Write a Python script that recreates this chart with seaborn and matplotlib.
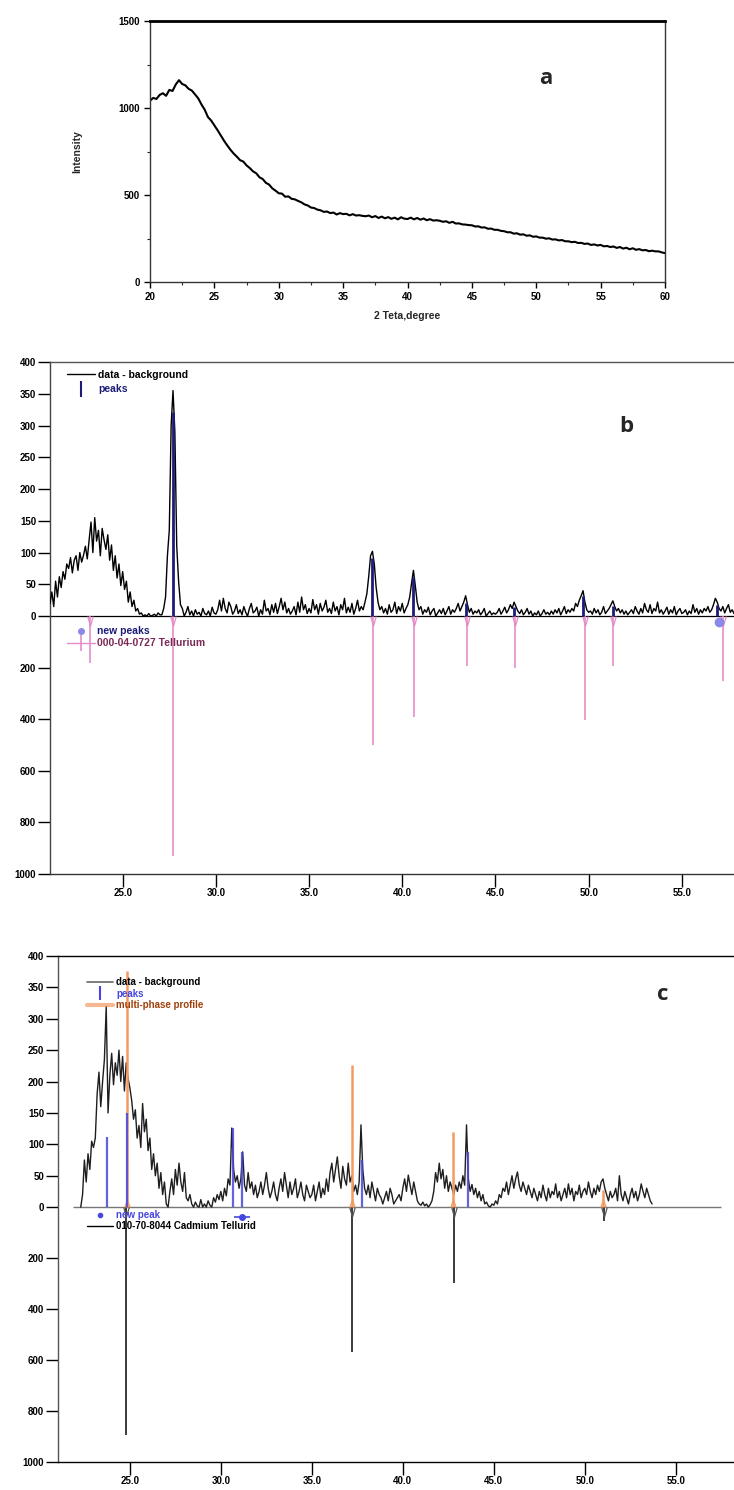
import numpy as np
import pandas as pd
import matplotlib
matplotlib.use("Agg")
import matplotlib.pyplot as plt
import seaborn as sns
from matplotlib.lines import Line2D
from matplotlib.ticker import FixedLocator, FuncFormatter, MultipleLocator

# ---------------- data : panel a (amorphous pattern) ----------------
tt_a_start, tt_a_step = 20.0, 0.25
int_a = [1042, 1058, 1052, 1075, 1085, 1070, 1104, 1098, 1135, 1160, 1138, 1130, 1110, 1100, 1078, 1055,
         1020, 990, 948, 928, 900, 872, 842, 812, 785, 760, 738, 720, 700, 692, 670, 655,
         636, 625, 602, 592, 570, 560, 538, 525, 510, 508, 490, 492, 478, 475, 466, 458,
         446, 440, 428, 425, 416, 412, 403, 405, 396, 399, 388, 396, 390, 392, 383, 390,
         382, 384, 380, 378, 382, 372, 379, 368, 376, 366, 373, 363, 370, 360, 372, 364,
         362, 370, 360, 368, 358, 365, 355, 361, 353, 355, 352, 346, 349, 340, 346, 336,
         337, 331, 330, 327, 326, 319, 320, 313, 314, 306, 307, 300, 300, 294, 292, 286,
         286, 278, 280, 272, 274, 266, 268, 260, 262, 255, 255, 249, 251, 244, 245, 239,
         241, 234, 234, 229, 231, 224, 225, 219, 221, 213, 216, 210, 213, 205, 207, 201,
         204, 196, 201, 192, 197, 188, 194, 185, 189, 182, 184, 177, 180, 176, 176, 170, 166]

# ---------------- data : panel b (data - background, Te) ----------------
tt_b_start, tt_b_step = 21.1, 0.1
int_b = [20, 38, 15, 55, 30, 62, 45, 70, 58, 82,
         75, 92, 68, 88, 95, 72, 100, 85, 96, 110,
         90, 120, 148, 100, 155, 118, 135, 95, 138, 120,
         105, 128, 88, 112, 72, 95, 60, 82, 48, 70,
         42, 55, 22, 38, 15, 25, 8, 12, 3, 5,
         0, 2, 0, 4, 0, 1, 3, 0, 5, 2,
         2, 12, 30, 95, 135, 300, 355, 290, 110, 55,
         18, 12, 0, 6, 15, 2, 8, 0, 10, 3,
         6, 0, 12, 4, 2, 8, 0, 14, 5, 3,
         10, 25, 8, 28, 12, 5, 22, 15, 3, 8,
         18, 4, 10, 2, 15, 6, 0, 12, 20, 5,
         8, 14, 0, 10, 3, 25, 8, 12, 2, 18,
         6, 20, 4, 15, 28, 10, 22, 5, 12, 3,
         8, 15, 2, 22, 6, 30, 10, 18, 4, 12,
         5, 26, 10, 18, 3, 20, 8, 14, 25, 6,
         12, 4, 22, 8, 15, 2, 18, 10, 28, 5,
         14, 6, 20, 3, 12, 25, 8, 15, 10, 22,
         35, 62, 95, 102, 82, 45, 22, 10, 15, 5,
         12, 3, 18, 6, 10, 22, 4, 15, 8, 20,
         5, 12, 18, 30, 52, 72, 48, 22, 10, 15,
         3, 10, 6, 14, 2, 8, 12, 0, 5, 10,
         4, 12, 2, 8, 15, 3, 10, 6, 12, 20,
         8, 15, 22, 32, 18, 6, 12, 3, 8, 5,
         10, 2, 6, 12, 0, 4, 8, 2, 5, 3,
         6, 12, 3, 8, 14, 5, 10, 18, 12, 22,
         15, 8, 4, 10, 2, 6, 12, 3, 8, 0,
         5, 2, 8, 0, 4, 10, 3, 6, 2, 8,
         3, 10, 5, 12, 2, 8, 15, 4, 10, 6,
         12, 8, 20, 15, 25, 32, 40, 22, 10, 6,
         8, 3, 12, 5, 10, 2, 6, 15, 4, 8,
         12, 18, 24, 15, 8, 12, 5, 10, 3, 8,
         2, 6, 10, 4, 15, 8, 3, 12, 5, 20,
         10, 6, 18, 4, 12, 8, 22, 5, 10, 3,
         8, 14, 3, 10, 5, 15, 2, 8, 12, 4,
         6, 10, 2, 8, 4, 18, 6, 12, 3, 10,
         5, 12, 8, 15, 6, 10, 18, 28, 22, 12,
         8, 15, 5, 12, 18, 6, 10, 4]
peaks_b_pos = [27.72, 38.4, 40.6, 43.4, 46.0, 49.7, 51.3, 56.9]
peaks_b_h = [322, 92, 62, 20, 14, 32, 16, 18]
ref_te_pos = [23.25, 27.68, 38.44, 40.62, 43.48, 46.03, 49.80, 51.30, 57.20]
ref_te_int = [183, 930, 500, 393, 193, 203, 403, 193, 251]
newpk_b_pos = [56.97]
newpk_b_y = [-22]

# ---------------- data : panel c (data - background, CdTe) ----------------
tt_c_start, tt_c_step = 22.3, 0.1
int_c = [0, 20, 75, 40, 85, 60, 105,
         95, 110, 180, 215, 160, 200, 235, 320, 150, 210,
         245, 195, 230, 210, 250, 200, 240, 185, 230, 205,
         190, 170, 140, 155, 110, 130, 95, 165, 120, 140,
         90, 110, 60, 85, 50, 70, 30, 55, 20, 40,
         5, 0, 25, 45, 20, 60, 35, 70, 40, 25,
         55, 15, 10, 20, 5, 0, 8, 2, 0, 12,
         0, 5, 0, 10, 3, 0, 15, 8, 20, 12,
         25, 10, 30, 18, 45, 35, 126, 60, 40, 50,
         30, 45, 88, 35, 25, 55, 30, 40, 20, 35,
         15, 25, 40, 20, 35, 55, 30, 15, 25, 40,
         20, 10, 30, 45, 25, 55, 35, 15, 40, 20,
         30, 45, 15, 25, 40, 20, 10, 35, 25, 15,
         20, 35, 10, 25, 40, 15, 30, 20, 45, 25,
         55, 70, 40, 60, 80, 50, 30, 65, 45, 35,
         70, 40, 50, 25, 35, 20, 40, 131, 60, 30,
         20, 35, 15, 40, 25, 10, 30, 20, 15, 5,
         15, 25, 10, 30, 20, 5, 10, 15, 20, 10,
         30, 45, 25, 51, 35, 20, 40, 25, 10, 5,
         3, 8, 2, 5, 0, 4, 10, 25, 55, 40,
         70, 45, 60, 30, 50, 25, 40, 30, 20, 35,
         25, 40, 30, 50, 35, 131, 45, 25, 36, 20,
         30, 15, 25, 10, 20, 5, 8, 2, 0, 5,
         3, 10, 5, 20, 15, 30, 25, 40, 20, 35,
         50, 30, 45, 56, 35, 25, 40, 30, 20, 35,
         25, 15, 30, 20, 10, 25, 15, 35, 20, 10,
         30, 15, 25, 20, 37, 15, 25, 10, 20, 30,
         15, 37, 20, 30, 10, 25, 20, 35, 15, 25,
         30, 20, 40, 25, 15, 30, 20, 35, 25, 40,
         45, 30, 20, 10, 25, 15, 20, 30, 10, 50,
         20, 10, 25, 15, 5, 20, 30, 15, 25, 10,
         20, 37, 25, 15, 30, 20, 10, 5]
peaks_c_pos = [23.77, 24.82, 30.64, 31.17, 37.76, 43.60]
peaks_c_h = [112, 150, 126, 88, 75, 88]
multi_c_pos = [24.82, 37.18, 42.78, 51.00]
multi_c_h = [376, 226, 120, 27]
ref_cdte_pos = [24.78, 37.18, 42.80, 51.06]
ref_cdte_int = [894, 567, 297, 54]
newpk_c_pos = [31.17]
newpk_c_y = [-38]
baseline_c = (21.85, 57.5)

# tick labels
ticks_a_x = [20, 25, 30, 35, 40, 45, 50, 55, 60]
ticks_a_y = [0, 500, 1000, 1500]
ticks_bc_x = [25.0, 30.0, 35.0, 40.0, 45.0, 50.0, 55.0]
ticks_bc_y = [-1000, -800, -600, -400, -200, 0, 50, 100, 150, 200, 250, 300, 350, 400]

# ---------------- style ----------------
sns.set_theme(style="ticks")
plt.rcParams["font.family"] = ["Liberation Sans", "DejaVu Sans"]
plt.rcParams["font.weight"] = "bold"
plt.rcParams["axes.linewidth"] = 1.0

NAVY = "#1c1c78"
PINK = "#e58cc8"
TE_TXT = "#7a2a55"
LAV = "#8a88e8"
BLUE = "#4646e0"
ORANGE = "#f29a62"
BROWN = "#a0400c"

fig = plt.figure(figsize=(7.34, 14.90), dpi=100)
W, H = 734.0, 1490.0


def px_axes(l, t, r, b):
    return fig.add_axes([l / W, 1 - b / H, (r - l) / W, (b - t) / H])


axA = px_axes(150, 21, 665, 282)
axB = px_axes(50, 362, 734, 874)
axC = px_axes(58, 956, 734, 1462)

V_DOWN = [(-0.28, 0.0), (0.0, -1.0), (0.28, 0.0)]
V_UP = [(-0.35, 0.0), (0.0, 1.0), (0.35, 0.0)]

# ---------------- panel a ----------------
tt_a = tt_a_start + tt_a_step * np.arange(len(int_a))
dfa = pd.DataFrame({"tt": tt_a, "I": int_a})
sns.lineplot(data=dfa, x="tt", y="I", ax=axA, color="black", lw=1.5, estimator=None)
axA.set_xlim(20, 60)
axA.set_ylim(0, 1500)
axA.xaxis.set_major_locator(FixedLocator(ticks_a_x))
axA.yaxis.set_major_locator(FixedLocator(ticks_a_y))
axA.xaxis.set_minor_locator(MultipleLocator(2.5))
axA.yaxis.set_minor_locator(MultipleLocator(250))
axA.tick_params(which="major", direction="out", length=4, width=1, labelsize=7, pad=3, colors="black")
axA.tick_params(which="minor", direction="out", length=2, width=0.8)
for s in ["left", "bottom", "right"]:
    axA.spines[s].set_color("#333333")
    axA.spines[s].set_linewidth(1.0)
axA.spines["top"].set_color("black")
axA.spines["top"].set_linewidth(2.0)
axA.set_xlabel("2 Teta,degree", fontsize=7.5, fontweight="bold", labelpad=7)
axA.set_ylabel("Intensity", fontsize=7.5, fontweight="bold", labelpad=26)
axA.text(0.768, 0.778, "a", transform=axA.transAxes, fontsize=16, fontweight="bold",
         family=["Open Sans", "DejaVu Sans"], ha="center", va="center")


# ---------------- split scale helpers ----------------
def make_scale(ratio):
    def fwd(y):
        y = np.asarray(y, dtype=float)
        return np.where(y >= 0, y, y * ratio)

    def inv(y):
        y = np.asarray(y, dtype=float)
        return np.where(y >= 0, y, y / ratio)
    return fwd, inv


def style_bc(ax, ratio, xlim):
    ax.set_yscale("function", functions=make_scale(ratio))
    ax.set_ylim(-1000, 400)
    ax.set_xlim(*xlim)
    ax.yaxis.set_major_locator(FixedLocator(ticks_bc_y))
    ax.yaxis.set_major_formatter(FuncFormatter(lambda v, p: f"{abs(v):.0f}"))
    ax.xaxis.set_major_locator(FixedLocator(ticks_bc_x))
    ax.xaxis.set_major_formatter(FuncFormatter(lambda v, p: f"{v:.1f}"))
    ax.yaxis.set_minor_locator(FixedLocator([]))
    ax.xaxis.set_minor_locator(FixedLocator([]))
    ax.tick_params(direction="out", length=9, width=1, labelsize=7, pad=1, colors="black")
    ax.spines["right"].set_visible(False)
    ax.spines["top"].set_color("#555555")
    ax.spines["left"].set_color("#444444")
    ax.spines["bottom"].set_color("#333333")
    ax.set_xlabel("")
    ax.set_ylabel("")


# ---------------- panel b ----------------
tt_b = tt_b_start + tt_b_step * np.arange(len(int_b))
dfb = pd.DataFrame({"tt": tt_b, "I": int_b})
axB.axhline(0, color="black", lw=0.9, zorder=1)
sns.lineplot(data=dfb, x="tt", y="I", ax=axB, color="black", lw=1.0, estimator=None, zorder=3)
axB.vlines(peaks_b_pos, 0, peaks_b_h, color=NAVY, lw=2.0, zorder=4)
axB.vlines(ref_te_pos, 0, -np.asarray(ref_te_int), color=PINK, lw=1.2, zorder=2)
axB.plot(ref_te_pos, np.zeros(len(ref_te_pos)), ls="none", marker=V_DOWN, ms=14,
         mfc="none", mec=PINK, mew=0.9, zorder=2)
axB.plot(newpk_b_pos, newpk_b_y, ls="none", marker="o", ms=6, color=LAV, zorder=5)
style_bc(axB, 0.406, (21.1, 57.8))
axB.text(0.843, 0.875, "b", transform=axB.transAxes, fontsize=16, fontweight="bold",
         family=["Open Sans", "DejaVu Sans"], ha="center", va="center")

h_data_b = Line2D([], [], color="black", lw=1.0)
h_peaks_b = Line2D([], [], color=NAVY, ls="none", marker="|", ms=11, mew=1.5)
leg1 = axB.legend([h_data_b, h_peaks_b], ["data - background", "peaks"], loc="upper left",
                  bbox_to_anchor=(0.0249, 0.985), borderaxespad=0, borderpad=0, frameon=False,
                  handlelength=2.7, handletextpad=0.3, labelspacing=0.45,
                  prop={"size": 7.5, "weight": "bold"}, labelcolor=["black", NAVY])
axB.add_artist(leg1)
h_new_b = Line2D([], [], color=LAV, ls="none", marker="o", ms=4)
h_te = Line2D([], [], color=PINK, lw=1.0, marker="|", ms=12, mew=1.2)
axB.legend([h_new_b, h_te], ["new peaks", "000-04-0727 Tellurium"], loc="upper left",
           bbox_to_anchor=(0.0249, 0.484), borderaxespad=0, borderpad=0, frameon=False,
           handlelength=2.7, handletextpad=0.2, labelspacing=0.2,
           prop={"size": 7.5, "weight": "bold"}, labelcolor=[NAVY, TE_TXT])

# ---------------- panel c ----------------
tt_c = tt_c_start + tt_c_step * np.arange(len(int_c))
dfc = pd.DataFrame({"tt": tt_c, "I": int_c})
axC.hlines(0, baseline_c[0], baseline_c[1], color="#777777", lw=1.0, zorder=1)
sns.lineplot(data=dfc, x="tt", y="I", ax=axC, color="#1e1e1e", lw=1.0, estimator=None, zorder=3)
axC.vlines(multi_c_pos, 0, multi_c_h, color=ORANGE, lw=1.8, zorder=4)
axC.plot(multi_c_pos, np.zeros(len(multi_c_pos)), ls="none", marker=V_UP, ms=11,
         mfc="none", mec=ORANGE, mew=0.9, zorder=4)
axC.vlines(peaks_c_pos, 0, peaks_c_h, color=BLUE, lw=1.6, alpha=0.85, zorder=5)
axC.vlines(ref_cdte_pos, 0, -np.asarray(ref_cdte_int), color="#3a3a3a", lw=1.4, zorder=2)
axC.plot(ref_cdte_pos, np.zeros(len(ref_cdte_pos)), ls="none", marker=V_DOWN, ms=14,
         mfc="none", mec="#555555", mew=0.9, zorder=2)
axC.plot(newpk_c_pos, newpk_c_y, ls="none", marker="o", ms=4, color=BLUE, zorder=6)
axC.plot(newpk_c_pos, newpk_c_y, ls="none", marker="_", ms=12, mew=1.2, color=BLUE, zorder=6)
style_bc(axC, 0.406, (21.05, 58.2))
axC.spines["top"].set_color("black")
axC.spines["bottom"].set_color("black")
axC.spines["left"].set_color("#555555")
axC.text(0.895, 0.923, "c", transform=axC.transAxes, fontsize=16, fontweight="bold",
         family=["Open Sans", "DejaVu Sans"], ha="center", va="center")

h_data_c = Line2D([], [], color="#666666", lw=1.2)
h_peaks_c = Line2D([], [], color=BLUE, ls="none", marker="|", ms=10, mew=1.5)
h_multi_c = Line2D([], [], color=ORANGE, lw=3.0, alpha=0.7)
leg3 = axC.legend([h_data_c, h_peaks_c, h_multi_c], ["data - background", "peaks", "multi-phase profile"],
                  loc="upper left", bbox_to_anchor=(0.043, 0.958), borderaxespad=0, borderpad=0,
                  frameon=False, handlelength=2.7, handletextpad=0.3, labelspacing=0.15,
                  prop={"size": 7.0, "weight": "bold"}, labelcolor=["black", BLUE, BROWN])
axC.add_artist(leg3)
h_new_c = Line2D([], [], color=BLUE, ls="none", marker="o", ms=3)
h_cdte = Line2D([], [], color="black", lw=1.0)
axC.legend([h_new_c, h_cdte], ["new peak", "010-70-8044 Cadmium Tellurid"], loc="upper left",
           bbox_to_anchor=(0.043, 0.498), borderaxespad=0, borderpad=0, frameon=False,
           handlelength=2.7, handletextpad=0.3, labelspacing=0.15,
           prop={"size": 7.0, "weight": "bold"}, labelcolor=[BLUE, "black"])

fig.savefig("out.png", dpi=100)
